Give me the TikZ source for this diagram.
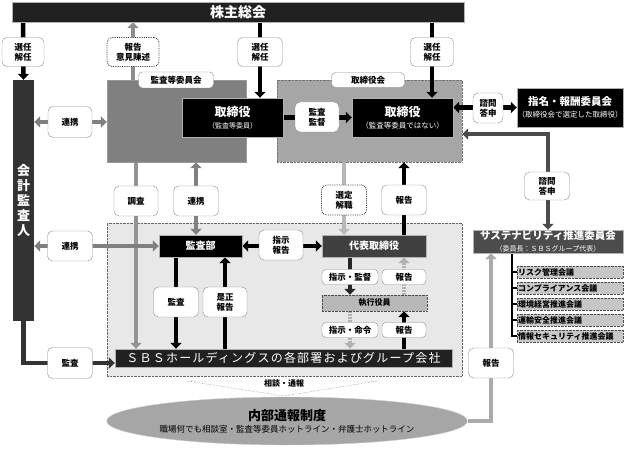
\documentclass[tikz,border=0pt]{standalone}
\usepackage{fontspec}
\setmainfont{Noto Sans CJK JP}
\newfontfamily\widejp{Noto Sans CJK JP}[LetterSpace=10]
\usetikzlibrary{arrows.meta, shapes.geometric}
\pgfdeclarelayer{bg}
\pgfdeclarelayer{lines}
\pgfsetlayers{bg,lines,main}
\tikzset{
    tag/.style={draw=black!45, fill=white, rounded corners=5pt, inner sep=0pt, align=center,
        minimum width=45pt, minimum height=30pt, font=\fontsize{8.5}{10}\selectfont\bfseries}, % white label on a connector
    dottag/.style={tag, draw=black!80, densely dotted, thick}, % dotted label
    flattag/.style={tag, rounded corners=4pt, minimum width=44pt, minimum height=15pt}, % one-line label
    darkbox/.style={draw=black!30, fill=black, text=white, inner sep=0pt, align=center}, % filled box
    zone/.style={inner sep=0pt}, % grey background area
    meeting/.style={draw=black!70, densely dotted, fill=black!22, anchor=west, minimum height=12pt,
        inner sep=1pt, text width=104pt, align=left, font=\fontsize{8}{9}\selectfont\bfseries},
    arr/.style={line width=4.5pt, -{Triangle[width=11pt,length=6pt]}}, % one-way connector
    darr/.style={line width=4.5pt, {Triangle[width=11pt,length=6pt]}-{Triangle[width=11pt,length=6pt]}}, % two-way connector
    lightdash/.style={arr, draw=black!30, dash pattern=on 2pt off 1pt},
}
\begin{document}
\begin{tikzpicture}[x=1pt, y=-1pt]
\useasboundingbox (0,0) rectangle (624,449);
% background areas
\begin{pgfonlayer}{bg}
\node[zone, draw=black!40, fill=black!50, minimum width=139pt, minimum height=82pt] (acb) at (176.5,121) {};
\node[zone, draw=black!55, densely dotted, fill=black!35, minimum width=185pt, minimum height=82pt] (bod) at (369.5,121) {};
\node[zone, draw=black!60, densely dotted, fill=black!9, minimum width=355pt, minimum height=153pt] (ops) at (284.5,299.5) {};
\draw[black!60, densely dotted] (187,381) -- (242,381) (328,381) -- (377,381) (187,381) -- (284,396) -- (377,381);
\end{pgfonlayer}
% boxes
\node[darkbox, fill=black!87, minimum width=452pt, minimum height=20pt, font=\fontsize{14}{16}\selectfont\bfseries] (gm) at (238,12) {株主総会};
\node[darkbox, fill=black!80, draw=none, minimum width=21pt, minimum height=241pt, font=\fontsize{13}{15}\selectfont\bfseries] (ka) at (23.5,200.5) {会\\計\\監\\査\\人};
\node[darkbox, minimum width=101pt, minimum height=39pt] (dirA) at (232.5,117.5)
    {{\fontsize{12}{14}\selectfont\bfseries 取締役}\\{\fontsize{7}{9}\selectfont （監査等委員）}};
\node[darkbox, minimum width=101pt, minimum height=39pt] (dirB) at (402.5,117.5)
    {{\fontsize{12}{14}\selectfont\bfseries 取締役}\\{\fontsize{7.5}{9}\selectfont （監査等委員ではない）}};
\node[darkbox, minimum width=106pt, minimum height=39pt] (nom) at (570,107.5)
    {{\fontsize{10.5}{13}\selectfont\bfseries 指名・報酬委員会}\\{\fontsize{7.5}{9}\selectfont （取締役会で選定した取締役）}};
\node[darkbox, minimum width=83pt, minimum height=22pt, font=\fontsize{10}{12}\selectfont\bfseries] (audit) at (200.5,246) {監査部};
\node[darkbox, fill=black!75, minimum width=104pt, minimum height=22pt, font=\fontsize{10}{12}\selectfont\bfseries] (ceo) at (374,246) {代表取締役};
\node[darkbox, fill=black!28, text=black, draw=black!70, densely dotted, minimum width=105pt, minimum height=16pt,
    font=\fontsize{8}{9}\selectfont\bfseries] (exec) at (374.5,303) {執行役員};
\node[darkbox, fill=black!87, minimum width=337pt, minimum height=18pt] (sbs) at (283.5,358)
    {\widejp\fontsize{12}{14}\selectfont ＳＢＳホールディングスの各部署およびグループ会社};
\node[darkbox, fill=black!70, minimum width=150pt, minimum height=23pt] (sus) at (548,241.5)
    {{\fontsize{10.5}{11.5}\selectfont\bfseries サステナビリティ推進委員会}\\{\fontsize{7}{8}\selectfont （委員長：ＳＢＳグループ代表）}};
\foreach \t [count=\i] in {リスク管理会議, コンプライアンス会議, 環境経営推進会議, 運輸安全推進会議, 情報セキュリティ推進会議}
    \node[meeting] (m\i) at (517,{256+16*\i}) {\t};
\node[ellipse, fill=black!35, draw=black!20, minimum width=314pt, minimum height=48pt, inner sep=0pt, align=center] (hotline) at (287,421)
    {{\fontsize{13}{15}\selectfont\bfseries 内部通報制度}\\{\fontsize{8.5}{10}\selectfont 職場何でも相談室・監査等委員ホットライン・弁護士ホットライン}};
% labels
\node[tag, minimum width=42pt, minimum height=29pt] (selK) at (23,52) {選任\\解任};
\node[dottag, minimum width=52pt, minimum height=29pt] (rep1) at (133,52) {報告\\意見陳述};
\node[tag, minimum height=29pt] (selA) at (260,52) {選任\\解任};
\node[tag, minimum width=43pt, minimum height=29pt] (selB) at (432,52) {選任\\解任};
\node[flattag, minimum width=75pt, minimum height=16pt] (tabA) at (176,80) {監査等委員会};
\node[flattag, minimum width=73pt] (tabB) at (368,80) {取締役会};
\node[tag, minimum width=44pt] (kan) at (317,117) {監査\\監督};
\node[tag, minimum width=30pt] (ask1) at (488,108) {諮問\\答申};
\node[tag, minimum width=44pt, minimum height=31pt] (ren1) at (70,122) {連携};
\node[tag, minimum width=44pt] (chosa) at (136,201) {調査};
\node[tag] (ren2) at (196,201) {連携};
\node[dottag] (sentei) at (344,200) {選定\\解職};
\node[tag] (rep2) at (404,200) {報告};
\node[tag, minimum height=28pt] (ask2) at (547,186) {諮問\\答申};
\node[tag] (ren3) at (70,246) {連携};
\node[tag, minimum width=44pt] (order1) at (281,245) {指示\\報告};
\node[tag] (kansa) at (176,302) {監査};
\node[tag, minimum width=44pt] (zesei) at (225,302) {是正\\報告};
\node[flattag, minimum width=56pt] (shk) at (350,277) {指示・監督};
\node[flattag] (rep3) at (404,277) {報告};
\node[flattag, minimum width=56pt] (shm) at (350,330) {指示・命令};
\node[flattag] (rep4) at (404,330) {報告};
\node[tag, minimum height=31pt] (kansa2) at (70,363) {監査};
\node[tag] (rep5) at (491,363) {報告};
\node[font=\fontsize{8}{9}\selectfont\bfseries] (consult) at (284,383) {相談・通報};
% connectors
\begin{pgfonlayer}{lines}
\draw[arr] (selK |- gm.south) -- (ka.north);
\draw[arr, black!45] (rep1 |- acb.north) -- (rep1 |- gm.south);
\draw[arr] (selA |- gm.south) -- (selA |- dirA.north);
\draw[arr] (selB |- gm.south) -- (selB |- dirB.north);
\draw[arr] (dirA.east) -- (dirB.west);
\draw[darr] (nom.west -| dirB.east) -- (nom.west);
\draw[darr, black!50] (ka.east |- ren1) -- (acb.west |- ren1);
\draw[arr, black!42] (chosa |- acb.south) -- (chosa |- sbs.north);
\draw[darr, black!50] (ren2 |- acb.south) -- (ren2 |- audit.north);
\draw[arr, black!28] (sentei |- bod.south) -- (sentei |- ceo.north);
\draw[arr] (rep2 |- ceo.north) -- (rep2 |- bod.south);
\coordinate (bend) at (548,134);
\draw[darr, black!70] (bod.east |- bend) -- (bend) -- (sus.north);
\draw[darr, black!50] (ka.east |- audit) -- (audit.west);
\draw[darr] (audit.east) -- (ceo.west);
\draw[arr] (kansa |- audit.south) -- (kansa |- sbs.north);
\draw[arr] (zesei |- sbs.north) -- (zesei |- audit.south);
\draw[arr, black!85] (shk |- ceo.south) -- (shk |- exec.north);
\draw[lightdash] (rep3 |- exec.north) -- (rep3 |- ceo.south);
\draw[lightdash] (shm |- exec.south) -- (shm |- sbs.north);
\draw[arr] (rep4 |- sbs.north) -- (rep4 |- exec.south);
\draw[arr, black!80] (ka.south) -- (ka.south |- kansa2) -- (sbs.west |- kansa2);
\draw[arr, black!33] (hotline.east) -- (rep5 |- hotline.east) -- (rep5 |- sus.south);
\coordinate (trunk) at (512,253);
\draw[line width=1.2pt] (trunk) |- (m5.west);
\foreach \i in {1,...,4}
    \draw[line width=1.2pt] (trunk |- m\i.west) -- (m\i.west);
\end{pgfonlayer}
\end{tikzpicture}
\end{document}
